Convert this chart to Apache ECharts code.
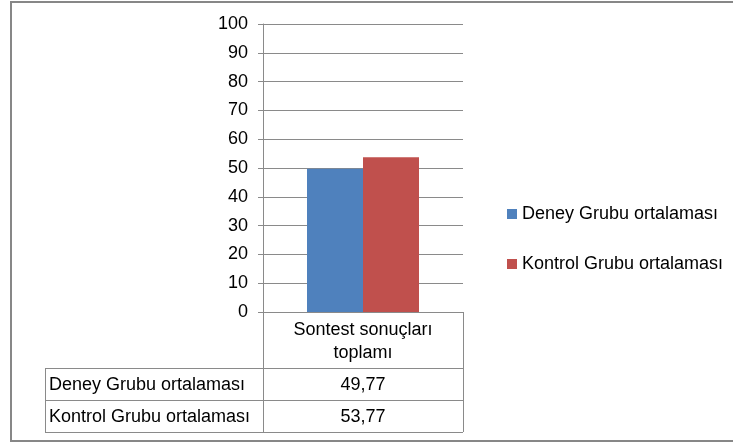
<!DOCTYPE html>
<html>
<head>
<meta charset="utf-8">
<script src="https://cdn.jsdelivr.net/npm/echarts@6/dist/echarts.min.js"></script>
<style>
  html, body { margin: 0; padding: 0; background: #fff; }
  #chart { width: 733px; height: 444px; }
</style>
</head>
<body>
<div id="chart"></div>
<script>
// values
const categories = ['Sontest sonuçları\ntoplamı']
const seriesNames = ['Deney Grubu ortalaması', 'Kontrol Grubu ortalaması']
const deneyValues = [49.77]
const kontrolValues = [53.77]
const yTicks = [0, 10, 20, 30, 40, 50, 60, 70, 80, 90, 100]

const colors = ['#4F81BD', '#C0504D']
const lineColor = '#8a8a8a'
const font = 'Liberation Sans'
const fontSize = 18

// plot box in px
const plotLeft = 263
const plotRight = 463
const plotTop = 24
const plotBottom = 312
// data table rows
const rowTops = [312, 368, 400, 432]
const tableLeft = 45

const fmt = v => v.toFixed(2).replace('.', ',')

const tableGraphics = []
// horizontal lines of the data table
for (let i = 1; i < rowTops.length; i++) {
  tableGraphics.push({
    type: 'line',
    shape: { x1: tableLeft, y1: rowTops[i] + 0.5, x2: plotRight, y2: rowTops[i] + 0.5 },
    style: { stroke: lineColor, lineWidth: 1 }
  })
}
// vertical lines
tableGraphics.push({ type: 'line', shape: { x1: plotLeft + 0.5, y1: rowTops[0], x2: plotLeft + 0.5, y2: rowTops[3] }, style: { stroke: lineColor, lineWidth: 1 } })
tableGraphics.push({ type: 'line', shape: { x1: plotRight + 0.5, y1: rowTops[0], x2: plotRight + 0.5, y2: rowTops[3] }, style: { stroke: lineColor, lineWidth: 1 } })
tableGraphics.push({ type: 'line', shape: { x1: tableLeft + 0.5, y1: rowTops[1], x2: tableLeft + 0.5, y2: rowTops[3] }, style: { stroke: lineColor, lineWidth: 1 } })

const rowValues = [deneyValues, kontrolValues]
seriesNames.forEach((name, i) => {
  const cy = (rowTops[i + 1] + rowTops[i + 2]) / 2 + 1
  tableGraphics.push({
    type: 'text', x: tableLeft + 4, y: cy,
    style: { text: name, fontFamily: font, fontSize: fontSize, fill: '#000', textVerticalAlign: 'middle', textAlign: 'left' }
  })
  tableGraphics.push({
    type: 'text', x: (plotLeft + plotRight) / 2, y: cy,
    style: { text: fmt(rowValues[i][0]), fontFamily: font, fontSize: fontSize, fill: '#000', textVerticalAlign: 'middle', textAlign: 'center' }
  })
})

// outer frame
tableGraphics.push({
  type: 'rect',
  shape: { x: 11, y: 2, width: 740, height: 439 },
  style: { fill: 'none', stroke: '#878787', lineWidth: 2 }
})

const option = {
  animation: false,
  backgroundColor: '#fff',
  color: colors,
  textStyle: { fontFamily: font },
  grid: {
    left: plotLeft,
    right: 733 - plotRight,
    top: plotTop,
    bottom: 444 - plotBottom
  },
  legend: {
    orient: 'vertical',
    left: 502,
    top: 200,
    itemWidth: 10,
    itemHeight: 10,
    itemGap: 32,
    icon: 'rect',
    data: seriesNames,
    textStyle: { fontFamily: font, fontSize: fontSize, color: '#000' }
  },
  xAxis: {
    type: 'category',
    data: categories,
    axisLine: { lineStyle: { color: lineColor } },
    axisTick: { show: false },
    axisLabel: {
      color: '#000', fontSize: fontSize, fontFamily: font, margin: 7, lineHeight: 23
    }
  },
  yAxis: {
    type: 'value',
    min: 0,
    max: 100,
    interval: 10,
    axisLine: { show: true, lineStyle: { color: lineColor } },
    axisTick: { show: true, length: 5, lineStyle: { color: lineColor } },
    splitLine: { lineStyle: { color: lineColor } },
    axisLabel: {
      color: '#000', fontSize: fontSize, fontFamily: font, margin: 15,
      formatter: v => (yTicks.includes(v) ? String(v) : '')
    }
  },
  series: [
    { name: seriesNames[0], type: 'bar', data: deneyValues, barWidth: 56, barGap: '0%' },
    { name: seriesNames[1], type: 'bar', data: kontrolValues, barWidth: 56, barGap: '0%' }
  ],
  graphic: tableGraphics
}

const chart = echarts.init(document.getElementById('chart'))
chart.setOption(option)
</script>
</body>
</html>
